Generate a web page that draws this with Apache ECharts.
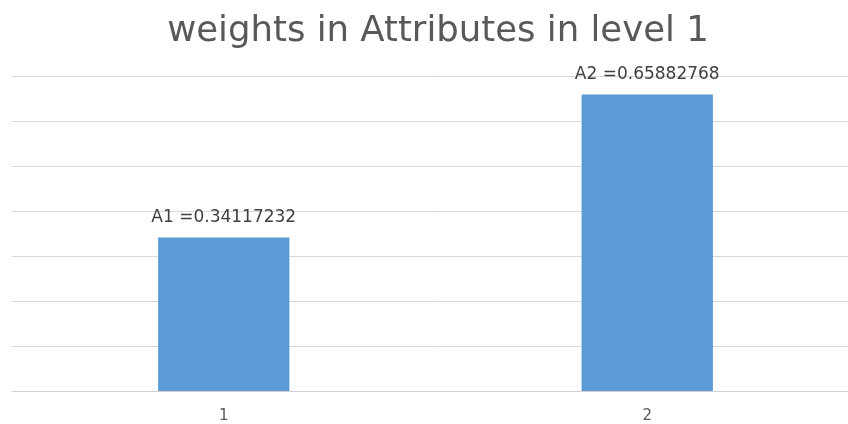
<!DOCTYPE html>
<html><head><meta charset="utf-8">
<script src="https://cdn.jsdelivr.net/npm/echarts@6/dist/echarts.min.js"></script>
<style>html,body{margin:0;padding:0;background:#fff;overflow:hidden;width:848px;height:424px}#c{width:859px;height:424px}</style>
</head><body><div id="c"></div>
<script>
const categories = ['1', '2'];
const names = ['A1', 'A2'];
const values = [0.34117232, 0.65882768];
const yTicks = [0, 0.1, 0.2, 0.3, 0.4, 0.5, 0.6, 0.7];

const chart = echarts.init(document.getElementById('c'));
chart.setOption({
  animation: false,
  title: {
    text: 'weights in Attributes in level 1',
    left: 433, top: 9, textAlign: 'center',
    textStyle: { fontFamily: 'DejaVu Sans', fontWeight: 'normal', fontSize: 35.5, color: '#595959' }
  },
  grid: { left: 12, right: 0, top: 76, bottom: 33, containLabel: false },
  xAxis: {
    type: 'category', data: categories,
    axisLine: { lineStyle: { color: '#d0d0d0' } },
    axisTick: { show: false },
    axisLabel: { color: '#595959', fontFamily: 'DejaVu Sans', fontSize: 15, margin: 18 }
  },
  yAxis: {
    type: 'value', min: yTicks[0], max: yTicks[yTicks.length - 1], interval: 0.1,
    axisLabel: { show: false }, axisLine: { show: false }, axisTick: { show: false },
    splitLine: { lineStyle: { color: '#d9d9d9' } }
  },
  series: [{
    type: 'bar', data: values, barWidth: '31%',
    itemStyle: { color: '#5b9bd5' },
    label: {
      show: true, position: 'top', distance: 11,
      color: '#404040', fontFamily: 'DejaVu Sans', fontSize: 17,
      formatter: p => names[p.dataIndex] + ' =' + p.value
    }
  }]
});
</script></body></html>
